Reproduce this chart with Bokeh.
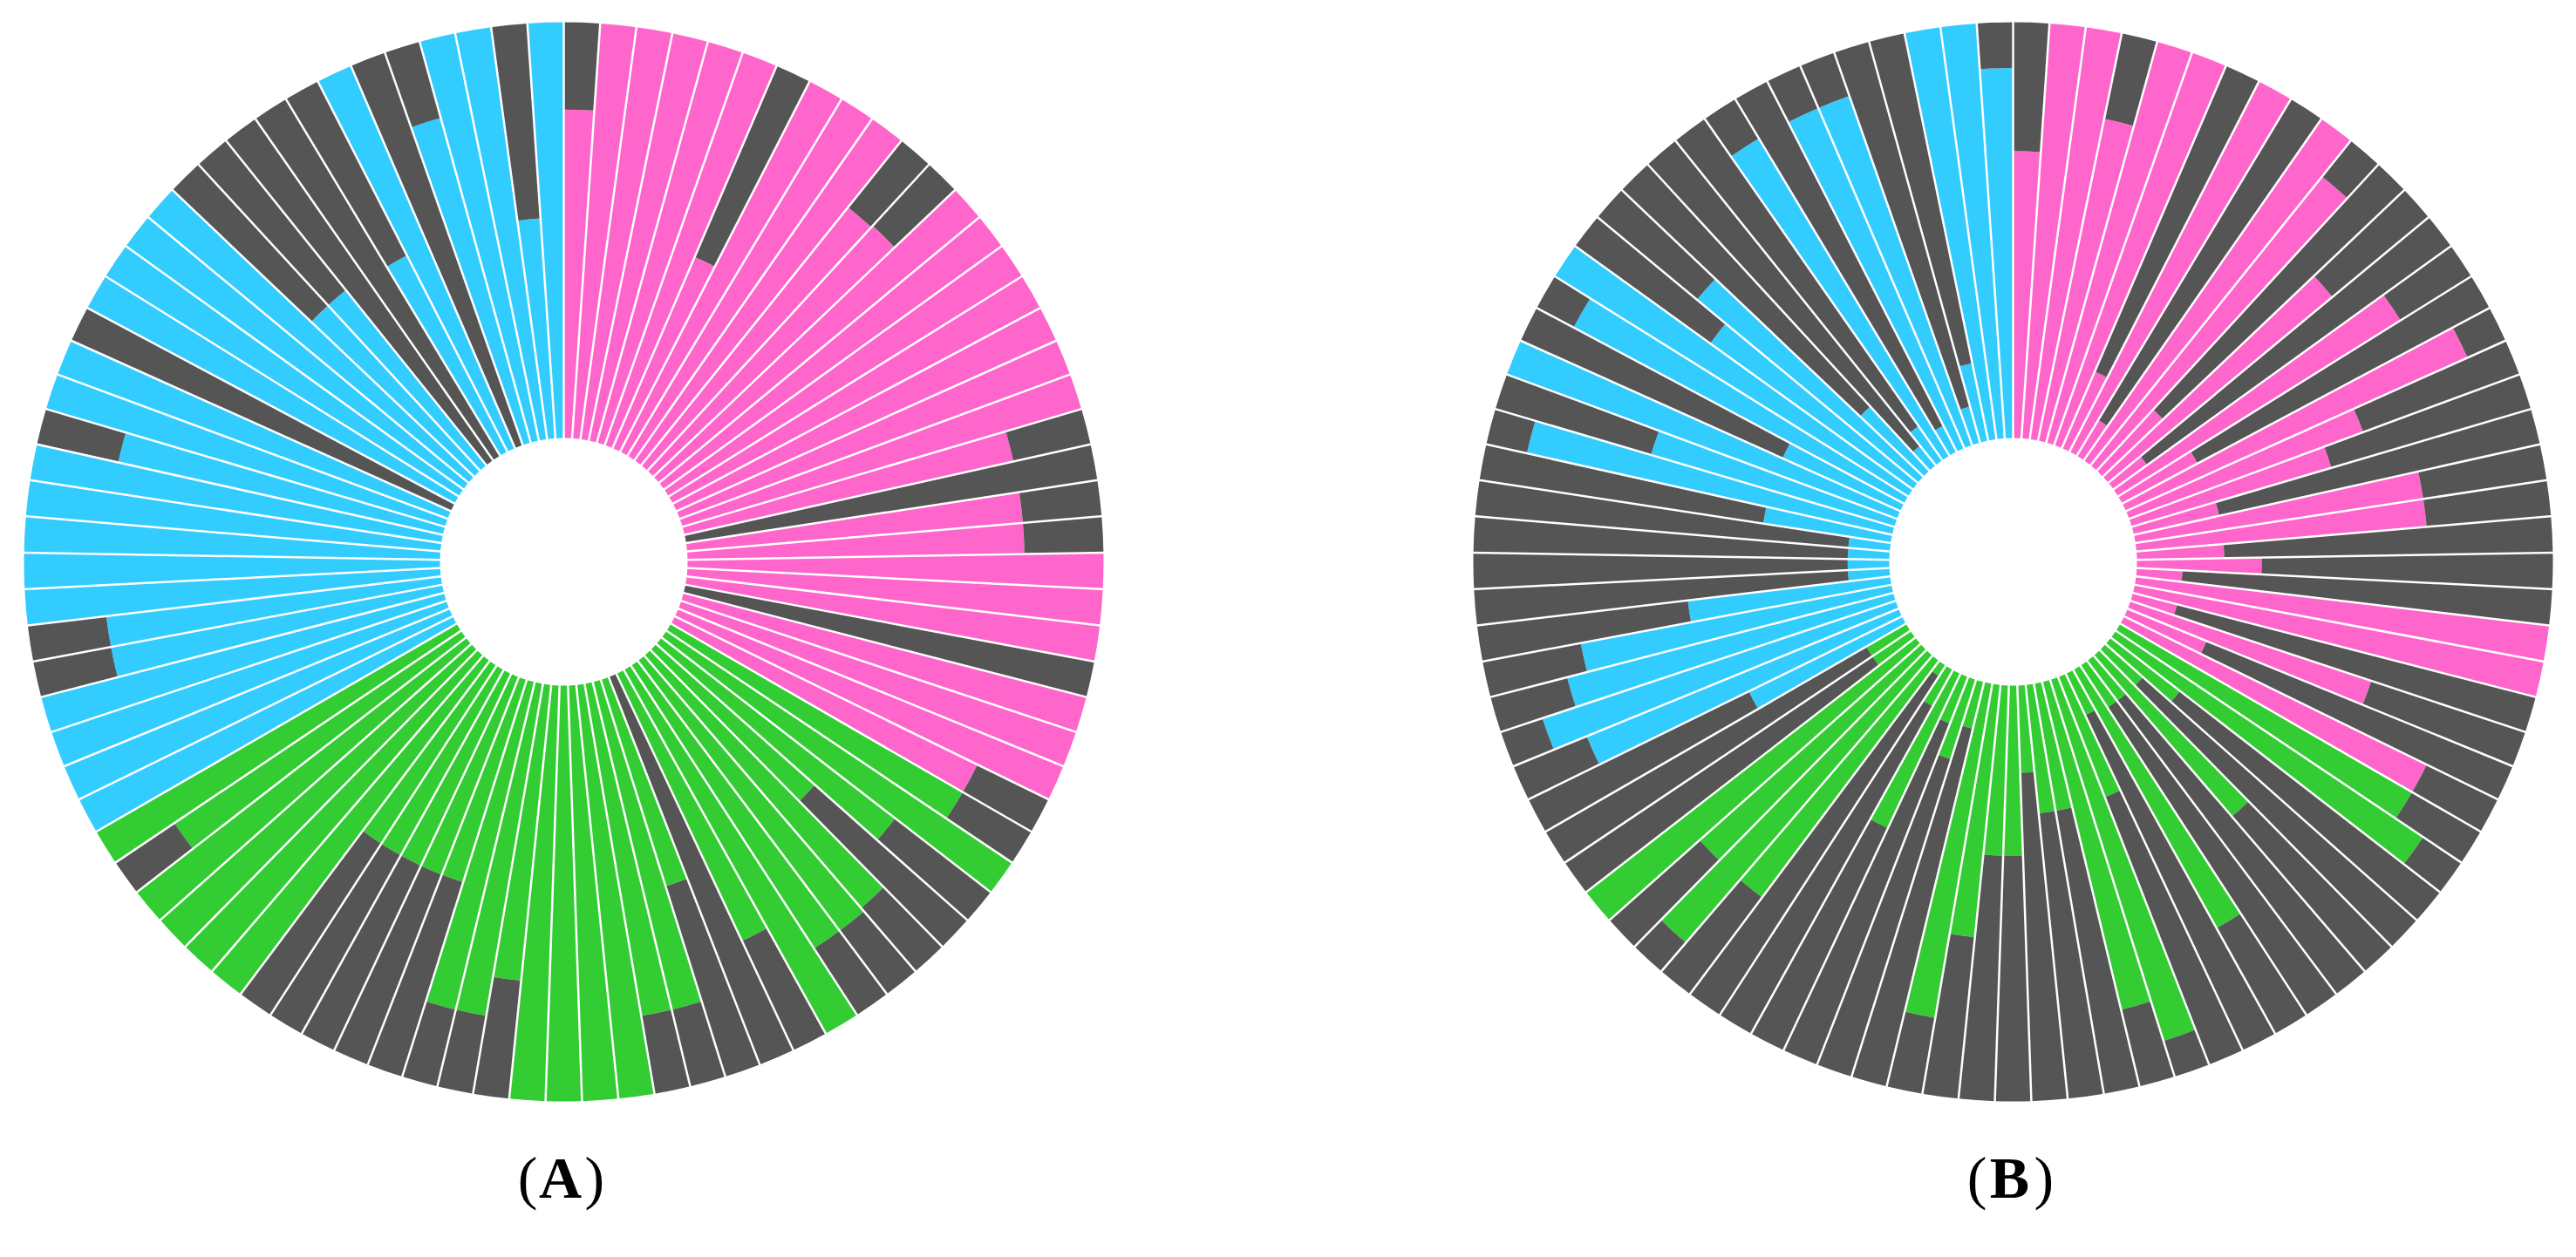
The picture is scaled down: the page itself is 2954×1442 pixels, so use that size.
import math
from bokeh.plotting import figure
from bokeh.models import ColumnDataSource, Range1d
from bokeh.embed import file_html
from bokeh.resources import INLINE
from bokeh.core.properties import value

# ---------------- data (share of each bar that is coloured, 0..1) ----------------
GROUPS = ["group 1", "group 2", "group 3"]
GROUP_COLORS = ["#FF66CC", "#33CC33", "#33CCFF"]
REST_COLOR = "#555555"
PANEL_LABELS = ["A", "B"]

A_pink = [0.79, 1, 1, 1, 1, 1, 0.50, 1, 1, 1, 0.795, 0.80, 1, 1, 1, 1, 1, 1, 1, 0.81,
          0.0, 0.81, 0.81, 1, 1, 1, 0.0, 1, 1, 1, 0.81]
A_green = [0.81, 1, 0.71, 0.51, 0.80, 0.81, 0.81, 1, 0.71, 0.0, 0.52, 0.81, 0.81, 1, 1, 1,
           1, 0.715, 0.81, 0.81, 0.51, 0.51, 0.51, 0.51, 0.51, 1, 1, 1, 1, 0.83, 1]
A_cyan = [1, 1, 1, 1, 0.81, 0.81, 1, 1, 1, 1, 1, 0.80, 1, 1, 0.0, 1, 1, 1, 1, 0.54,
          0.54, 0.0, 0.0, 0.53, 1, 0.0, 0.81, 1, 1, 0.53, 1]

B_pink = [0.69, 1, 1, 0.79, 1, 1, 0.20, 1, 0.10, 1, 0.89, 0.20, 0.70, 0.10, 0.80, 0.205,
          0.90, 0.60, 0.50, 0.21, 0.70, 0.70, 0.21, 0.30, 0.11, 1, 1, 0.11, 0.61, 0.205, 0.81]
B_green = [0.81, 0.89, 0.21, 0.12, 0.51, 0.12, 0.12, 0.71, 0.11, 0.31, 0.91, 0.81, 0.31,
           0.31, 0.21, 0.41, 0.41, 0.61, 0.815, 0.115, 0.20, 0.12, 0.41, 0.10, 0.03, 0.71,
           0.91, 0.71, 1.0, 0.11, 0.11]
B_cyan = [0.41, 0.81, 0.895, 0.81, 0.76, 0.49, 0.10, 0.10, 0.10, 0.10, 0.31, 0.90, 0.61,
          1.0, 0.31, 0.90, 1.0, 0.60, 0.69, 0.21, 0.06, 0.10, 0.89, 0.07, 0.89, 0.89, 0.09,
          0.19, 1, 1, 0.89]

PANELS = [[A_pink, A_green, A_cyan], [B_pink, B_green, B_cyan]]

# ---------------- layout ----------------
W, H = 2950, 1438
PAGE_H = 1442
CENTERS_X = [646, 2308]
CENTER_Y = PAGE_H - 644
R_IN, R_OUT = 142, 619


def wedge_source(cx, cy, series):
    n = sum(len(s) for s in series)
    step = 2 * math.pi / n
    d = dict(x=[], y=[], ri=[], ro=[], sa=[], ea=[], color=[])
    k = 0
    for g, vals in enumerate(series):
        for v in vals:
            t1, t2 = k * step, (k + 1) * step
            sa, ea = math.pi / 2 - t2, math.pi / 2 - t1
            rb = R_IN + v * (R_OUT - R_IN)
            for ri, ro, col in ((R_IN, rb, GROUP_COLORS[g]), (rb, R_OUT, REST_COLOR)):
                if ro - ri <= 0.01:
                    continue
                d["x"].append(cx); d["y"].append(cy)
                d["ri"].append(ri); d["ro"].append(ro)
                d["sa"].append(sa); d["ea"].append(ea)
                d["color"].append(col)
            k += 1
    seg = dict(x0=[], y0=[], x1=[], y1=[])
    for k in range(n):
        t = k * step
        s, c = math.sin(t), math.cos(t)
        seg["x0"].append(cx + (R_IN - 2) * s); seg["y0"].append(cy + (R_IN - 2) * c)
        seg["x1"].append(cx + (R_OUT + 2) * s); seg["y1"].append(cy + (R_OUT + 2) * c)
    return ColumnDataSource(d), ColumnDataSource(seg)


p = figure(width=W, height=H, x_range=Range1d(0, W), y_range=Range1d(PAGE_H - H, PAGE_H),
           output_backend="svg", toolbar_location=None, x_axis_type=None, y_axis_type=None,
           min_border=0)
p.grid.visible = False
p.outline_line_color = None
p.background_fill_color = "white"
p.border_fill_color = "white"

for cx, series in zip(CENTERS_X, PANELS):
    wsrc, ssrc = wedge_source(cx, CENTER_Y, series)
    p.annular_wedge(x="x", y="y", inner_radius="ri", outer_radius="ro",
                    start_angle="sa", end_angle="ea", fill_color="color",
                    line_color=None, source=wsrc)
    p.segment(x0="x0", y0="y0", x1="x1", y1="y1", line_color="white",
              line_width=2.5, source=ssrc)

LABEL_Y = PAGE_H - 1350
for cx, lab in zip(CENTERS_X, PANEL_LABELS):
    lx = cx - 4
    common = dict(text_baseline="alphabetic", text_font=value("Liberation Serif"),
                  text_font_size="68px", text_color="black")
    p.text(x=[lx - 26], y=[LABEL_Y], text=["("], text_align="right", **common)
    p.text(x=[lx], y=[LABEL_Y], text=[lab], text_align="center", text_font_style="bold", **common)
    p.text(x=[lx + 28], y=[LABEL_Y], text=[")"], text_align="left", **common)

open("out.html", "w").write(file_html(p, INLINE))
